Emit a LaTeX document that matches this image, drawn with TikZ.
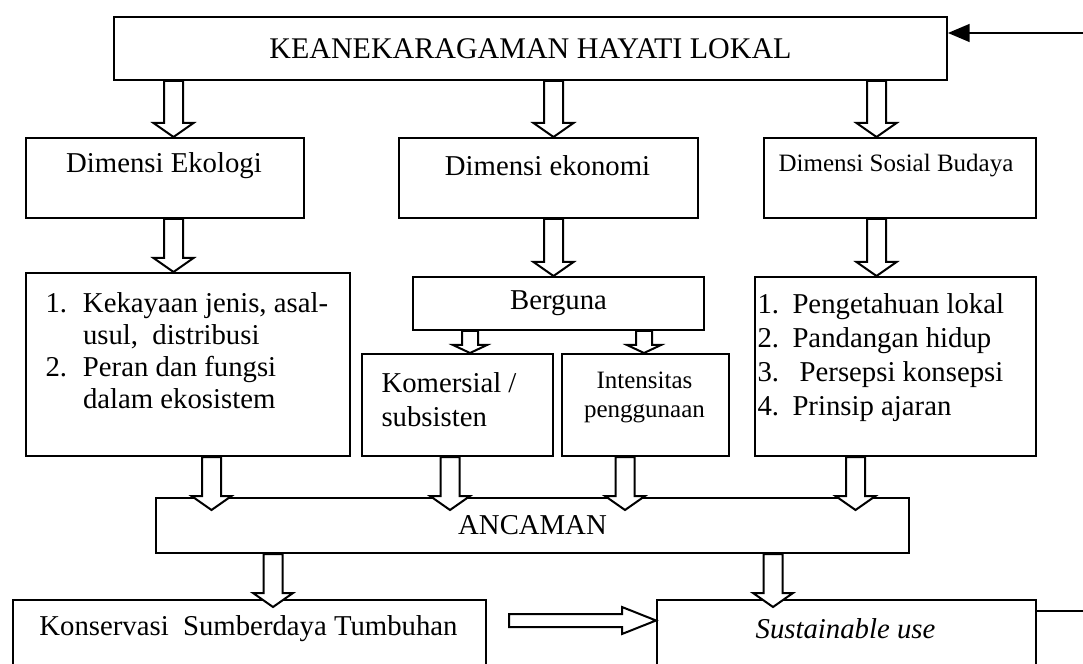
\documentclass[tikz,border=0pt]{standalone}
\usepackage{fontspec}
\setmainfont{Liberation Serif}
\usetikzlibrary{calc,positioning,arrows}

\newcommand{\downblock}[7]{%
  \path (#1,0 |- #2.south) coordinate (a) ($(#1,0 |- #3.north)+(0,#4)$) coordinate (b);
  \draw[hollow] ($(a)+(-#5,0)$) -- ($(b)+(-#5,-#7)$) -- ($(b)+(-#6,-#7)$) -- (b)
    -- ($(b)+(#6,-#7)$) -- ($(b)+(#5,-#7)$) -- ($(a)+(#5,0)$) -- cycle;
}

\begin{document}
\begin{tikzpicture}[x=0.4pt,y=-0.4pt,>=triangle 45,
  box/.style 2 args={draw,line width=0.8pt,anchor=north west,minimum width=#1*0.4pt,minimum height=#2*0.4pt,inner sep=0pt},
  txt/.style={inner sep=0pt,font=\fontsize{11.5}{13}\selectfont},
  small/.style={inner sep=0pt,font=\fontsize{10}{11.6}\selectfont},
  hollow/.style={draw,line width=0.8pt,fill=white,line join=miter}]
\useasboundingbox (0,0) rectangle (1083,664);
\clip (0,0) rectangle (1083,664);

\node[box={833}{63},txt,font=\fontsize{12}{14}\selectfont] (top) at (113,16) {KEANEKARAGAMAN HAYATI LOKAL};
\node[box={278}{80}] (eko) at (25,137) {};
\node[box={299}{80}] (eco) at (398,137) {};
\node[box={272}{80}] (sos) at (763,137) {};
\node[txt] (ekoN) at (164,166) {Dimensi Ekologi};
\node[txt] (ecoN) at (547.5,166) {Dimensi ekonomi};
\node[small] (sosN) at (896,166) {Dimensi Sosial Budaya};

\node[box={324}{183}] (ekoL) at (25,272) {};
\node[box={291}{53},txt] (ber) at (412,276) {Berguna};
\node[box={281}{179}] (sosL) at (754,276) {};
\node[box={191}{102}] (kom) at (361,353) {};
\node[box={167}{102}] (int) at (561,353) {};

\node[txt,align=left,anchor=north west,font=\fontsize{11.5}{12.8}\selectfont] (ekoT) at (45,292)
  {\makebox[15pt][l]{1.}Kekayaan jenis, asal-\\\hspace*{15pt}usul,\ \ distribusi\\
   \makebox[15pt][l]{2.}Peran dan fungsi\\\hspace*{15pt}dalam ekosistem};
\node[txt,align=left,anchor=north west,font=\fontsize{11.5}{13.6}\selectfont] (sosT) at (757,293)
  {\makebox[14pt][l]{1.}Pengetahuan lokal\\\makebox[14pt][l]{2.}Pandangan hidup\\
   \makebox[14pt][l]{3.}\ Persepsi konsepsi\\\makebox[14pt][l]{4.}Prinsip ajaran};
\node[txt,align=left,anchor=north west,font=\fontsize{11.5}{13.6}\selectfont] (komT) at (381,372) {Komersial /\\subsisten};
\node[small,align=center,anchor=north] (intT) at (644.5,371) {Intensitas\\penggunaan};

\node[box={753}{55},txt] (anc) at (155,497) {ANCAMAN};
\node[box={473}{100}] (kon) at (12,599) {};
\node[box={379}{100}] (sus) at (656,599) {};
\node[txt] (konT) at (248.5,629) {Konservasi\ \ Sumberdaya Tumbuhan};
\node[txt] (susT) at (845.5,629) {\itshape Sustainable use};

\downblock{173.5}{top}{eko}{0}{9.5}{20}{14}
\downblock{553.5}{top}{eco}{0}{9.5}{20}{14}
\downblock{876.5}{top}{sos}{0}{9.5}{20}{14}
\downblock{173.5}{eko}{ekoL}{0}{9.5}{20}{14}
\downblock{553.5}{eco}{ber}{0}{9.5}{20}{14}
\downblock{876.5}{sos}{sosL}{0}{9.5}{20}{14}
\downblock{470}{ber}{kom}{0}{8}{17}{8}
\downblock{644}{ber}{int}{0}{8}{17}{8}
\downblock{211.5}{ekoL}{anc}{13}{9.5}{20}{14}
\downblock{450}{kom}{anc}{13}{9.5}{20}{14}
\downblock{625}{int}{anc}{13}{9.5}{20}{14}
\downblock{855.5}{sosL}{anc}{13}{9.5}{20}{14}
\downblock{273}{anc}{kon}{8}{9.5}{20}{14}
\downblock{773}{anc}{sus}{8}{9.5}{20}{14}

\path ($(kon.north east)+(22,21.5)$) coordinate (h1) (h1 -| sus.west) coordinate (h2);
\draw[hollow] ($(h1)+(0,-6.5)$) -- ($(h2)+(-34,-6.5)$) -- ($(h2)+(-34,-13.5)$) -- (h2)
  -- ($(h2)+(-34,13.5)$) -- ($(h2)+(-34,6.5)$) -- ($(h1)+(0,6.5)$) -- cycle;

\coordinate (fbIn) at (1090,33);
\coordinate (fbOut) at (1090,611);
\draw[->,line width=1pt] (fbIn) -- (fbIn -| top.east);
\draw[line width=0.8pt] (fbOut -| sus.east) -- (fbOut);
\end{tikzpicture}
\end{document}
